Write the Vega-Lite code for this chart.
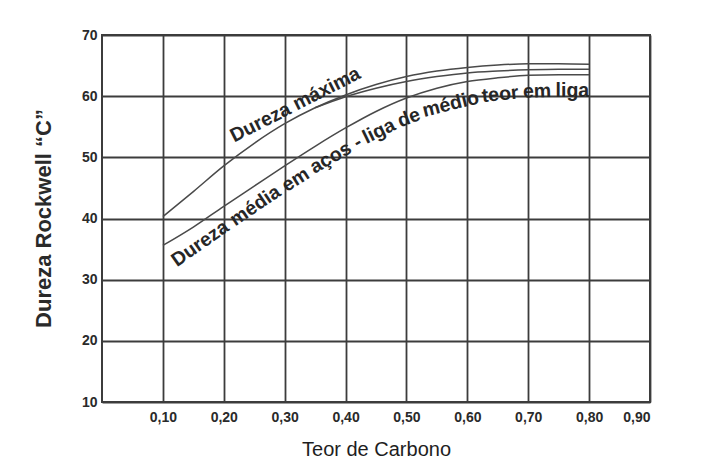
{
  "$schema": "https://vega.github.io/schema/vega-lite/v6.json",
  "width": 548,
  "height": 367,
  "autosize": {"type": "none"},
  "padding": {"left": 102, "top": 35, "right": 59, "bottom": 70},
  "background": "#ffffff",
  "config": {
    "view": {"stroke": "#3c3c3c", "strokeWidth": 2},
    "font": "Liberation Sans",
    "text": {"fontSize": 19.5, "fontWeight": "bold", "color": "#262626", "align": "center", "baseline": "middle"}
  },
  "datasets": {
    "curvas": [
      {"curva": "Dureza máxima", "carbono": 0.10, "dureza": 40.3},
      {"curva": "Dureza máxima", "carbono": 0.15, "dureza": 44.4},
      {"curva": "Dureza máxima", "carbono": 0.20, "dureza": 48.6},
      {"curva": "Dureza máxima", "carbono": 0.25, "dureza": 52.3},
      {"curva": "Dureza máxima", "carbono": 0.30, "dureza": 55.5},
      {"curva": "Dureza máxima", "carbono": 0.35, "dureza": 58.1},
      {"curva": "Dureza máxima", "carbono": 0.40, "dureza": 60.2},
      {"curva": "Dureza máxima", "carbono": 0.45, "dureza": 61.9},
      {"curva": "Dureza máxima", "carbono": 0.50, "dureza": 63.2},
      {"curva": "Dureza máxima", "carbono": 0.55, "dureza": 64.1},
      {"curva": "Dureza máxima", "carbono": 0.60, "dureza": 64.7},
      {"curva": "Dureza máxima", "carbono": 0.65, "dureza": 65.1},
      {"curva": "Dureza máxima", "carbono": 0.70, "dureza": 65.3},
      {"curva": "Dureza máxima", "carbono": 0.75, "dureza": 65.3},
      {"curva": "Dureza máxima", "carbono": 0.80, "dureza": 65.2},
      {"curva": "Intermédia", "carbono": 0.35, "dureza": 58.1},
      {"curva": "Intermédia", "carbono": 0.40, "dureza": 59.9},
      {"curva": "Intermédia", "carbono": 0.45, "dureza": 61.3},
      {"curva": "Intermédia", "carbono": 0.50, "dureza": 62.4},
      {"curva": "Intermédia", "carbono": 0.55, "dureza": 63.2},
      {"curva": "Intermédia", "carbono": 0.60, "dureza": 63.8},
      {"curva": "Intermédia", "carbono": 0.65, "dureza": 64.1},
      {"curva": "Intermédia", "carbono": 0.70, "dureza": 64.3},
      {"curva": "Intermédia", "carbono": 0.75, "dureza": 64.4},
      {"curva": "Intermédia", "carbono": 0.80, "dureza": 64.4},
      {"curva": "Dureza média", "carbono": 0.10, "dureza": 35.6},
      {"curva": "Dureza média", "carbono": 0.15, "dureza": 38.6},
      {"curva": "Dureza média", "carbono": 0.20, "dureza": 42.0},
      {"curva": "Dureza média", "carbono": 0.25, "dureza": 45.3},
      {"curva": "Dureza média", "carbono": 0.30, "dureza": 48.6},
      {"curva": "Dureza média", "carbono": 0.35, "dureza": 51.8},
      {"curva": "Dureza média", "carbono": 0.40, "dureza": 54.8},
      {"curva": "Dureza média", "carbono": 0.45, "dureza": 57.5},
      {"curva": "Dureza média", "carbono": 0.50, "dureza": 59.7},
      {"curva": "Dureza média", "carbono": 0.55, "dureza": 61.3},
      {"curva": "Dureza média", "carbono": 0.60, "dureza": 62.4},
      {"curva": "Dureza média", "carbono": 0.65, "dureza": 63.0},
      {"curva": "Dureza média", "carbono": 0.70, "dureza": 63.4},
      {"curva": "Dureza média", "carbono": 0.75, "dureza": 63.5},
      {"curva": "Dureza média", "carbono": 0.80, "dureza": 63.5}
    ],
    "rotulos": [
      {"id": 0, "texto": "Dureza máxima", "carbono": 0.3175, "dureza": 58.6},
      {"id": 1, "texto": "Dureza", "carbono": 0.1612, "dureza": 35.9},
      {"id": 2, "texto": "média", "carbono": 0.2518, "dureza": 42.1},
      {"id": 3, "texto": "em", "carbono": 0.3178, "dureza": 46.33},
      {"id": 4, "texto": "aços -", "carbono": 0.3841, "dureza": 50.42},
      {"id": 5, "texto": "liga", "carbono": 0.4548, "dureza": 54.28},
      {"id": 6, "texto": "de", "carbono": 0.5040, "dureza": 56.45},
      {"id": 7, "texto": "médio", "carbono": 0.5726, "dureza": 58.7},
      {"id": 8, "texto": "teor", "carbono": 0.6538, "dureza": 60.3},
      {"id": 9, "texto": "em", "carbono": 0.7146, "dureza": 60.8},
      {"id": 10, "texto": "liga", "carbono": 0.7725, "dureza": 60.9}
    ]
  },
  "layer": [
    {
      "data": {"name": "curvas"},
      "mark": {"type": "line", "color": "#4a4a4a", "strokeWidth": 1.5, "interpolate": "monotone"},
      "encoding": {
        "x": {
          "field": "carbono", "type": "quantitative",
          "scale": {"domain": [0, 0.9], "nice": false},
          "axis": {
            "values": [0.1, 0.2, 0.3, 0.4, 0.5, 0.6, 0.7, 0.8, 0.9],
            "labelExpr": "replace(format(datum.value, '.2f'), '.', ',')",
            "ticks": false, "domain": false,
            "grid": true, "gridColor": "#3c3c3c", "gridWidth": 1.8, "gridOpacity": 1,
            "labelFontSize": 14, "labelFontWeight": "bold", "labelColor": "#2a2a2a", "labelPadding": 8,
            "title": "Teor de Carbono", "titleFontSize": 20, "titleFontWeight": "normal", "titleColor": "#1e1e1e",
            "titleX": 274, "titleY": 47, "titleBaseline": "middle", "titleAlign": "center"
          }
        },
        "y": {
          "field": "dureza", "type": "quantitative",
          "scale": {"domain": [10, 70], "nice": false, "zero": false},
          "axis": {
            "values": [10, 20, 30, 40, 50, 60, 70],
            "ticks": false, "domain": false,
            "grid": true, "gridColor": "#3c3c3c", "gridWidth": 1.8, "gridOpacity": 1,
            "labelFontSize": 14, "labelFontWeight": "bold", "labelColor": "#2a2a2a", "labelPadding": 5,
            "title": "Dureza Rockwell “C”", "titleFontSize": 22, "titleFontWeight": "bold", "titleColor": "#2a2a2a",
            "titleX": -59, "titleY": 183, "titleAngle": -90, "titleBaseline": "middle", "titleAlign": "center"
          }
        },
        "detail": {"field": "curva"}
      }
    },
    {"data": {"name": "rotulos"}, "transform": [{"filter": "datum.id == 0"}], "mark": {"type": "text", "angle": -27}, "encoding": {"x": {"field": "carbono", "type": "quantitative"}, "y": {"field": "dureza", "type": "quantitative"}, "text": {"field": "texto"}}},
    {"data": {"name": "rotulos"}, "transform": [{"filter": "datum.id == 1"}], "mark": {"type": "text", "angle": -35}, "encoding": {"x": {"field": "carbono", "type": "quantitative"}, "y": {"field": "dureza", "type": "quantitative"}, "text": {"field": "texto"}}},
    {"data": {"name": "rotulos"}, "transform": [{"filter": "datum.id == 2"}], "mark": {"type": "text", "angle": -34}, "encoding": {"x": {"field": "carbono", "type": "quantitative"}, "y": {"field": "dureza", "type": "quantitative"}, "text": {"field": "texto"}}},
    {"data": {"name": "rotulos"}, "transform": [{"filter": "datum.id == 3"}], "mark": {"type": "text", "angle": -32}, "encoding": {"x": {"field": "carbono", "type": "quantitative"}, "y": {"field": "dureza", "type": "quantitative"}, "text": {"field": "texto"}}},
    {"data": {"name": "rotulos"}, "transform": [{"filter": "datum.id == 4"}], "mark": {"type": "text", "angle": -30}, "encoding": {"x": {"field": "carbono", "type": "quantitative"}, "y": {"field": "dureza", "type": "quantitative"}, "text": {"field": "texto"}}},
    {"data": {"name": "rotulos"}, "transform": [{"filter": "datum.id == 5"}], "mark": {"type": "text", "angle": -26}, "encoding": {"x": {"field": "carbono", "type": "quantitative"}, "y": {"field": "dureza", "type": "quantitative"}, "text": {"field": "texto"}}},
    {"data": {"name": "rotulos"}, "transform": [{"filter": "datum.id == 6"}], "mark": {"type": "text", "angle": -21}, "encoding": {"x": {"field": "carbono", "type": "quantitative"}, "y": {"field": "dureza", "type": "quantitative"}, "text": {"field": "texto"}}},
    {"data": {"name": "rotulos"}, "transform": [{"filter": "datum.id == 7"}], "mark": {"type": "text", "angle": -14}, "encoding": {"x": {"field": "carbono", "type": "quantitative"}, "y": {"field": "dureza", "type": "quantitative"}, "text": {"field": "texto"}}},
    {"data": {"name": "rotulos"}, "transform": [{"filter": "datum.id == 8"}], "mark": {"type": "text", "angle": -6}, "encoding": {"x": {"field": "carbono", "type": "quantitative"}, "y": {"field": "dureza", "type": "quantitative"}, "text": {"field": "texto"}}},
    {"data": {"name": "rotulos"}, "transform": [{"filter": "datum.id == 9"}], "mark": {"type": "text", "angle": -2}, "encoding": {"x": {"field": "carbono", "type": "quantitative"}, "y": {"field": "dureza", "type": "quantitative"}, "text": {"field": "texto"}}},
    {"data": {"name": "rotulos"}, "transform": [{"filter": "datum.id == 10"}], "mark": {"type": "text", "angle": 0}, "encoding": {"x": {"field": "carbono", "type": "quantitative"}, "y": {"field": "dureza", "type": "quantitative"}, "text": {"field": "texto"}}}
  ]
}
